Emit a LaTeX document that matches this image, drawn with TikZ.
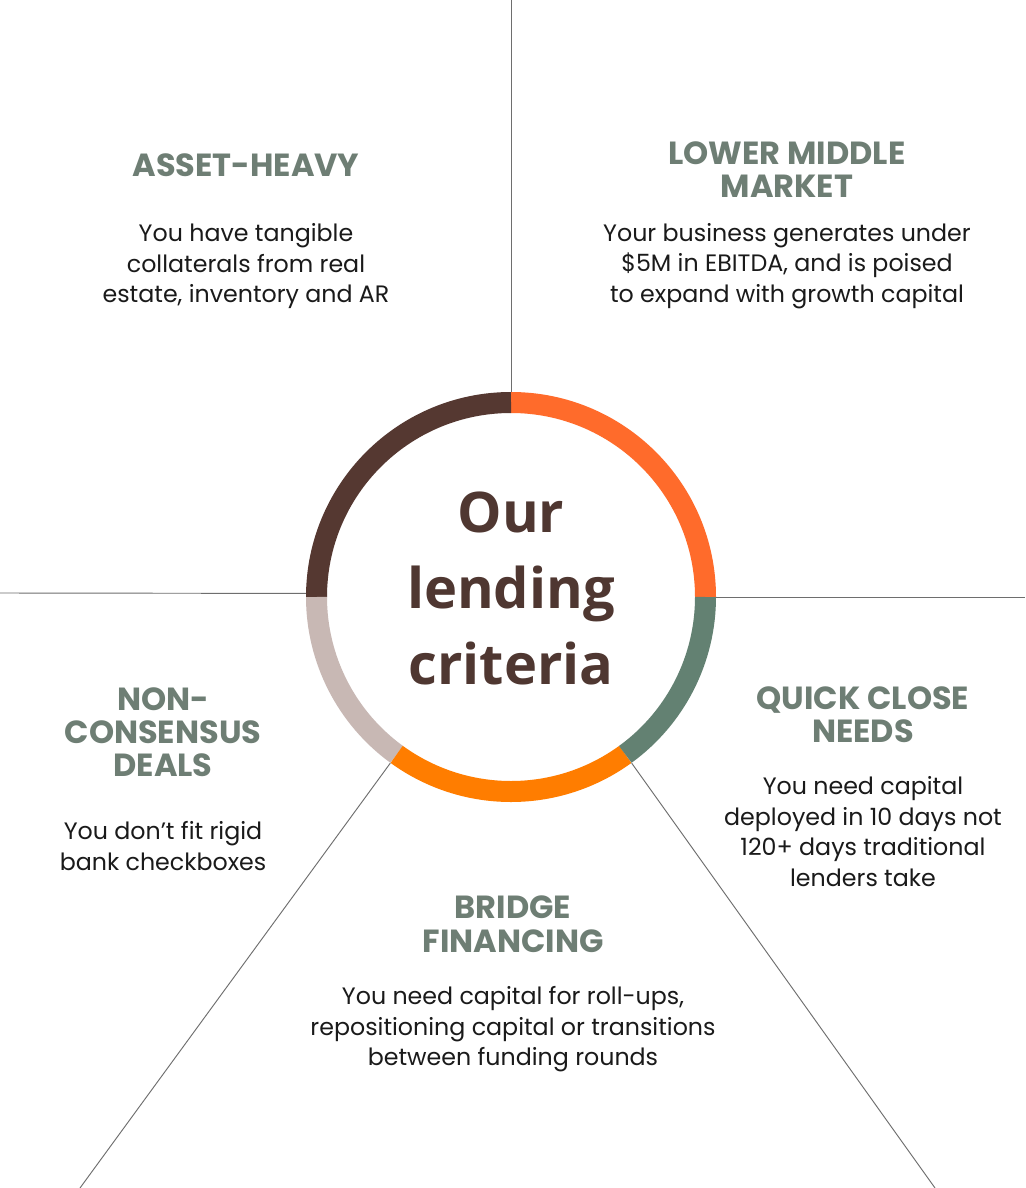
\documentclass[tikz,border=0pt]{standalone}
\usepackage{fontspec}
\setmainfont{Poppins}
\newfontfamily\centrefont{Open Sans}
\usepackage{tikz}
\usetikzlibrary{positioning}
\definecolor{ringbrown}{RGB}{85,56,49}
\definecolor{ringorange}{RGB}{255,107,43}
\definecolor{ringamber}{RGB}{255,125,0}
\definecolor{ringgreen}{RGB}{99,129,114}
\definecolor{ringgrey}{RGB}{200,184,180}
\definecolor{headgreen}{RGB}{110,126,116}
\definecolor{bodyblack}{RGB}{26,26,26}
\definecolor{centrebrown}{RGB}{79,55,49}
\definecolor{spokegrey}{RGB}{110,110,110}

\begin{document}
\begin{tikzpicture}[
  x=0.75pt, y=0.75pt,
  crithead/.style={align=center, inner sep=0pt, anchor=north, text=headgreen, font=\bfseries\fontsize{24}{25}\selectfont},
  critbody/.style={align=center, inner sep=0pt, text=bodyblack, font=\fontsize{17.8}{23}\selectfont},
  ringseg/.style={line width=15.75pt},
  spoke/.style={draw=spokegrey, line width=0.7pt}
]
\fill[white] (0,0) rectangle (1025,-1188);
\useasboundingbox (0,0) rectangle (1025,-1188);

% ring
\node[circle, minimum size=307.5pt, inner sep=0pt] (ring) at (511,-597) {};
\draw[ringseg, ringorange] (ring.center) ++(0:194.5) arc[start angle=0, end angle=90, radius=194.5];
\draw[ringseg, ringbrown] (ring.center) ++(90:194.5) arc[start angle=90, end angle=180, radius=194.5];
\draw[ringseg, ringgrey] (ring.center) ++(180:194.5) arc[start angle=180, end angle=234, radius=194.5];
\draw[ringseg, ringamber] (ring.center) ++(234:194.5) arc[start angle=234, end angle=306, radius=194.5];
\draw[ringseg, ringgreen] (ring.center) ++(306:194.5) arc[start angle=306, end angle=360, radius=194.5];
\node[align=center, inner sep=0pt, anchor=north, text=centrebrown, font=\centrefont\bfseries\fontsize{42}{57}\selectfont] (title) at (511,-492) {Our\\lending\\criteria};

% spokes
\coordinate (topend) at (511,0);
\coordinate (leftend) at (0,-593);
\coordinate (rightend) at (1025,-597);
\coordinate (lowleftend) at (80,-1188);
\coordinate (lowrightend) at (935,-1188);
\draw[spoke] (ring.90) -- (topend);
\draw[spoke] (ring.179) -- (leftend);
\draw[spoke] (ring.0) -- (rightend);
\draw[spoke] (ring.234) -- (lowleftend);
\draw[spoke] (ring.306) -- (lowrightend);

% criteria
\node[crithead] (assethead) at (246,-153) {ASSET-HEAVY};
\node[critbody, below=35pt of assethead] (assetbody) {You have tangible\\collaterals from real\\estate, inventory and AR};
\node[crithead] (lmmhead) at (787,-141) {LOWER MIDDLE\\MARKET};
\node[critbody, below=19pt of lmmhead] (lmmbody) {Your business generates under\\\$5M in EBITDA, and is poised\\to expand with growth capital};
\node[crithead] (quickhead) at (863,-686) {QUICK CLOSE\\NEEDS};
\node[critbody, below=25pt of quickhead] (quickbody) {You need capital\\deployed in 10 days not\\120+ days traditional\\lenders take};
\node[crithead] (nonhead) at (163,-687) {NON-\\CONSENSUS\\DEALS};
\node[critbody, below=33pt of nonhead] (nonbody) {You don’t fit rigid\\bank checkboxes};
\node[crithead] (bridgehead) at (513,-896) {BRIDGE\\FINANCING};
\node[critbody, below=25pt of bridgehead] (bridgebody) {You need capital for roll-ups,\\repositioning capital or transitions\\between funding rounds};
\end{tikzpicture}
\end{document}
